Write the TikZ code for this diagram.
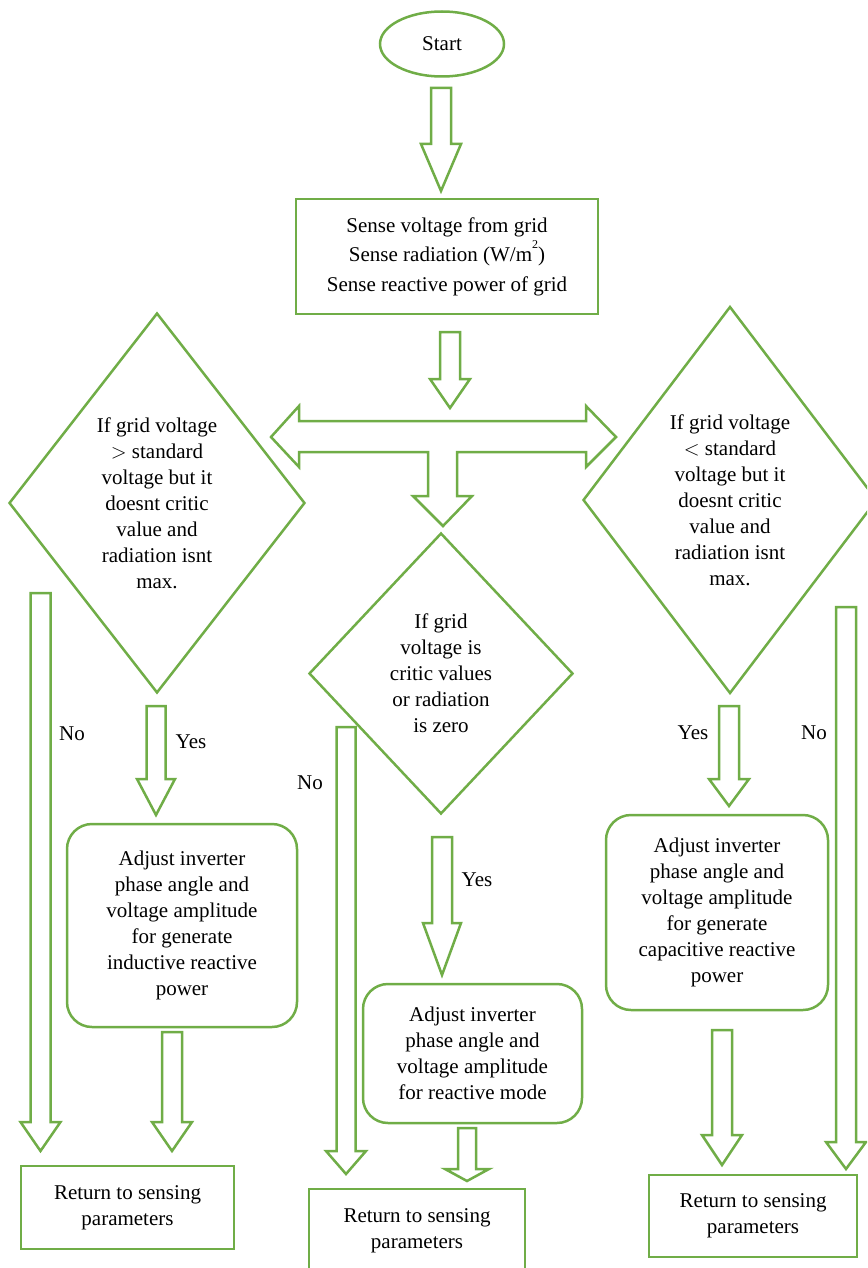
\documentclass[tikz,border=0pt]{standalone}
\usepackage{fontspec}
\setmainfont{Liberation Serif}
\usetikzlibrary{shapes.geometric}
\definecolor{fg}{HTML}{70AD47}
\newcommand{\barrow}[6]{\draw[blk] (#1-#5,#2) -- (#1+#5,#2) -- (#1+#5,#3) -- (#1+#6,#3) -- (#1,#4) -- (#1-#6,#3) -- (#1-#5,#3) -- cycle;}
\begin{document}
\begin{tikzpicture}[x=1pt,y=-1pt,
  every node/.style={font=\fontsize{21}{26}\selectfont, align=center, inner sep=0pt},
  gbox/.style={draw=fg, line width=2.5pt, rectangle},
  rbox/.style={gbox, rounded corners=25pt},
  dia/.style={draw=fg, line width=2.5pt, diamond},
  blk/.style={draw=fg, line width=2.5pt, line join=miter, fill=white}]
\useasboundingbox (0,0) rectangle (867,1268);
\clip (0,0) rectangle (867,1268);

% start and sensing
\node[draw=fg, line width=2.5pt, ellipse, minimum width=124pt, minimum height=65pt] (start) at (442,44) {Start};
\node[gbox, minimum width=302pt, minimum height=115pt, font=\fontsize{21}{29.5}\selectfont] (sense) at (447,256.5)
  {Sense voltage from grid\\Sense radiation (W/m\raisebox{0.62em}{\fontsize{12}{12}\selectfont 2})\\Sense reactive power of grid};

% decisions
\node[dia, minimum width=296pt, minimum height=380pt] (dl) at (157,503)
  {If grid voltage\\$>$ standard\\voltage but it\\doesnt critic\\value and\\radiation isnt\\max.};
\node[dia, minimum width=294pt, minimum height=387pt] (dr) at (730,500)
  {If grid voltage\\$<$ standard\\voltage but it\\doesnt critic\\value and\\radiation isnt\\max.};
\node[dia, minimum width=264pt, minimum height=281pt] (dc) at (441,673.5)
  {If grid\\voltage is\\critic values\\or radiation\\is zero};

% actions
\node[rbox, minimum width=230pt, minimum height=203pt] (adjl) at (182,925.5)
  {Adjust inverter\\phase angle and\\voltage amplitude\\for generate\\inductive reactive\\power};
\node[rbox, minimum width=219pt, minimum height=139pt] (adjc) at (472.5,1053.5)
  {Adjust inverter\\phase angle and\\voltage amplitude\\for reactive mode};
\node[rbox, minimum width=222pt, minimum height=195pt] (adjr) at (717,912.5)
  {Adjust inverter\\phase angle and\\voltage amplitude\\for generate\\capacitive reactive\\power};

% returns
\node[gbox, minimum width=213pt, minimum height=83pt] (retl) at (127.5,1207.5)
  {Return to sensing\\parameters};
\node[gbox, minimum width=216pt, minimum height=83pt] (retc) at (417,1230.5)
  {Return to sensing\\parameters};
\node[gbox, minimum width=208pt, minimum height=82pt] (retr) at (753,1216)
  {Return to sensing\\parameters};

% block arrows
\barrow{441}{88}{144}{191}{10}{20}
\barrow{450}{332}{379}{408}{10}{20}
\draw[blk] (271,437) -- (299,406) -- (299,421) -- (586,421) -- (586,406) -- (616,437)
  -- (586,467) -- (586,452) -- (457,452) -- (457,496) -- (472,496) -- (443,526)
  -- (413,496) -- (428,496) -- (428,452) -- (299,452) -- (299,467) -- cycle;
\barrow{156}{706}{779}{815}{9.5}{19}
\barrow{40.5}{593}{1122}{1151}{10}{20}
\barrow{172}{1032}{1122}{1151}{10}{20}
\barrow{346}{727}{1151}{1174}{9.5}{20}
\barrow{442}{837}{923}{975}{10}{19}
\barrow{467}{1128}{1169}{1181}{9}{22}
\barrow{729}{706}{779}{806}{10}{20}
\barrow{846}{607}{1142}{1169}{10}{20}
\barrow{722}{1030}{1135}{1165}{10}{20}

% labels
\node (nol) at (72,734) {No};
\node (yesl) at (191,742) {Yes};
\node (noc) at (310,783) {No};
\node (yesc) at (477,880) {Yes};
\node (yesr) at (693,733) {Yes};
\node (nor) at (814,733) {No};
\end{tikzpicture}
\end{document}
